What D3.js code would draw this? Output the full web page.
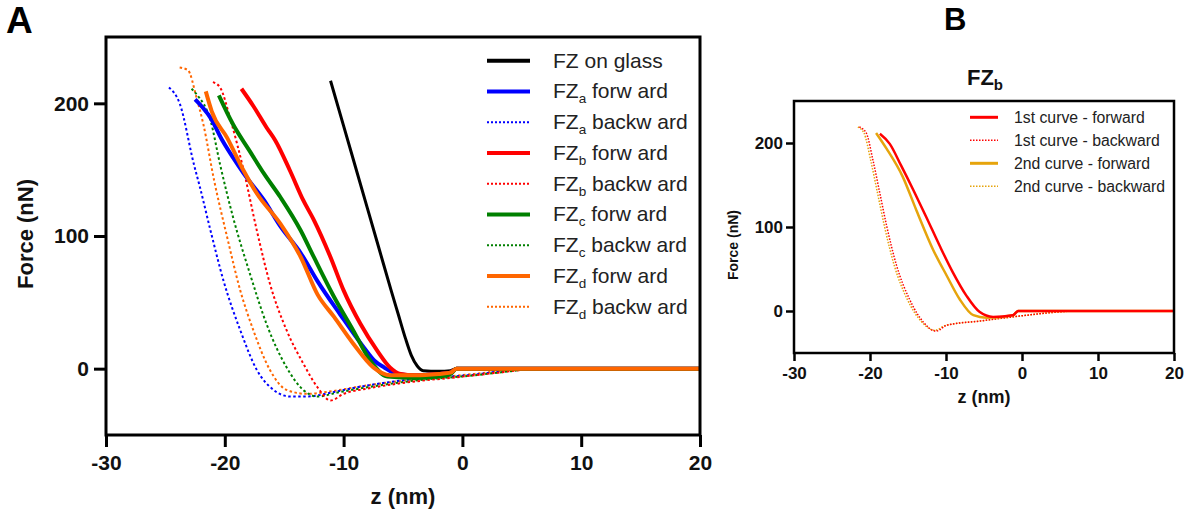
<!DOCTYPE html>
<html><head><meta charset="utf-8">
<script src="https://cdn.jsdelivr.net/npm/d3@7"></script>
<style>body{margin:0;background:#fff}svg{display:block}text{font-family:"Liberation Sans",Arial,sans-serif}</style>
</head><body>
<svg id="c" width="1192" height="524"></svg>
<script>
// ---------- Data (z in nm, Force in nN) ----------
const xTicks = [-30, -20, -10, 0, 10, 20];
const yTicks = [0, 100, 200];

const glassFwd = [[-11.1,217],[-10,183],[-9,152],[-8,121],[-7,90],[-6,59],[-5.4,41],[-4.8,23],[-4.3,10],[-3.8,2],[-3.3,-1.5],[-2,-2],[-1,-1.5],[-0.5,0],[0,0],[20,0]];
const aFwd = [[-22.5,203],[-21.2,189],[-20.2,172],[-19.3,159],[-18.4,147],[-16.7,127],[-15.3,107],[-13.6,87],[-12.2,66],[-10.3,41],[-8.3,16],[-7.4,6],[-6.6,1],[-5.5,-4],[-4,-5],[-2,-4],[-1,-3],[-0.5,0],[20,0]];
const aBwd = [[-24.7,212],[-23.8,200],[-22.6,154],[-22.1,137],[-21.2,104],[-20.1,66],[-18.7,29],[-17.3,-1],[-15.9,-16],[-14.5,-21],[-13.1,-21],[-11,-18],[-9.4,-15],[-5.2,-9],[1.5,-4],[4,-1],[6,0],[20,0]];
const bFwd = [[-18.6,211],[-17.6,198],[-16.5,182],[-15.75,172],[-14.5,149],[-13.4,127],[-12.5,112],[-11.1,84],[-10,59],[-8.6,34],[-7.2,14],[-6.1,1],[-5.2,-4],[-4,-5],[-2,-4],[-1,-3],[-0.5,0],[20,0]];
const bBwd = [[-21,216],[-20.4,212],[-19.5,187],[-18.4,149],[-17.3,104],[-16.2,64],[-14.8,29],[-13.4,4],[-12.2,-14],[-11.1,-24],[-10,-19],[-8,-15],[-5.2,-11],[0,-6],[3,-3],[5,-1],[6.5,0],[20,0]];
const cFwd = [[-20.5,206],[-19.3,184],[-17.9,164],[-16.7,147],[-15.3,129],[-13.6,104],[-12.5,84],[-10.8,54],[-9.2,29],[-7.75,6],[-6.3,-6],[-4,-7],[-2,-6],[-1,-4],[-0.5,0],[20,0]];
const cBwd = [[-22.8,211],[-22.3,206],[-21.2,187],[-20.4,154],[-19.3,114],[-17.9,72],[-16.5,34],[-14.8,1],[-13.4,-16],[-12.2,-21],[-10.5,-18],[-8,-14],[-4,-9],[1,-5],[4,-2],[6,0],[20,0]];
const dFwd = [[-21.6,209],[-21.1,194],[-19.8,174],[-18.4,149],[-17.3,132],[-15.3,109],[-13.6,84],[-12.2,56],[-10.8,39],[-9.2,19],[-7.5,1],[-6.1,-5],[-4,-5],[-2,-4],[-1,-3],[-0.5,0],[20,0]];
const dBwd = [[-23.8,227],[-23.1,225],[-22.4,205],[-21.8,184],[-20.9,142],[-19.8,99],[-18.7,59],[-17.6,29],[-16.2,-1],[-14.8,-16],[-13.1,-19],[-11,-17],[-9,-14],[-5,-9],[1,-4],[4,-1],[6,0],[20,0]];

const b1Fwd = [[-18.7,211],[-17.4,199],[-15.9,173],[-14.3,144],[-12.6,112],[-10.8,77],[-9.1,46],[-7.3,18],[-5.6,-1],[-3.8,-7],[-1.2,-5],[-0.5,0],[20,0]];
const b1Bwd = [[-21.4,219],[-20.5,212],[-19.6,179],[-18.7,140],[-17.8,101],[-16.5,54],[-14.8,14],[-13,-13],[-11.3,-24],[-9.9,-17],[-5.6,-12],[-0.3,-6],[5,-1],[7,0],[20,0]];
const b2Fwd = [[-19.2,212],[-17.8,193],[-15.7,160],[-13.9,120],[-11.7,73],[-9.9,42],[-8.2,14],[-6.4,-5],[-4.7,-8],[-1.2,-5],[-0.5,0],[20,0]];
const b2Bwd = [[-21.6,219],[-20.8,212],[-19.9,179],[-19,140],[-18.1,101],[-16.8,54],[-15.1,14],[-13.2,-13],[-11.5,-23],[-10,-17],[-5.6,-12],[-0.3,-6],[5,-1],[7,0],[20,0]];

const legendA = [
  {main:"FZ on glass", sub:"", rest:"", color:"#000000", dash:false},
  {main:"FZ", sub:"a", rest:" forw ard", color:"#0000ff", dash:false},
  {main:"FZ", sub:"a", rest:" backw ard", color:"#0000ff", dash:true},
  {main:"FZ", sub:"b", rest:" forw ard", color:"#ff0000", dash:false},
  {main:"FZ", sub:"b", rest:" backw ard", color:"#ff0000", dash:true},
  {main:"FZ", sub:"c", rest:" forw ard", color:"#008000", dash:false},
  {main:"FZ", sub:"c", rest:" backw ard", color:"#008000", dash:true},
  {main:"FZ", sub:"d", rest:" forw ard", color:"#ff6600", dash:false},
  {main:"FZ", sub:"d", rest:" backw ard", color:"#ff6600", dash:true}
];
const seriesA = [dBwd, aBwd, cBwd, bBwd, glassFwd, aFwd, bFwd, cFwd, dFwd];
const seriesAStyle = [legendA[8], legendA[2], legendA[6], legendA[4], legendA[0], legendA[1], legendA[3], legendA[5], legendA[7]];

const legendB = [
  {label:"1st curve - forward", color:"#ff0000", dash:false},
  {label:"1st curve - backward", color:"#ff0000", dash:true},
  {label:"2nd curve - forward", color:"#e6a40c", dash:false},
  {label:"2nd curve - backward", color:"#e6a40c", dash:true}
];
const seriesB = [b2Bwd, b1Bwd, b2Fwd, b1Fwd];
const seriesBStyle = [legendB[3], legendB[1], legendB[2], legendB[0]];

// ---------- Drawing ----------
const svg = d3.select("#c");

function panel(cfg) {
  const x = d3.scaleLinear().domain([-30, 20]).range([cfg.left, cfg.right]);
  const y = d3.scaleLinear().domain([-50, 250]).range([cfg.bottom, cfg.top]);
  const g = svg.append("g");
  const line = d3.line().x(d => x(d[0])).y(d => y(d[1])).curve(d3.curveMonotoneX);

  cfg.series.forEach((s, i) => {
    const st = cfg.styles[i];
    const isGlass = st.color === "#000000";
    g.append("path").datum(s).attr("d", line)
      .attr("fill", "none").attr("stroke", st.color)
      .attr("stroke-width", st.dash ? cfg.dashW : (isGlass ? cfg.glassW : cfg.solidW))
      .attr("stroke-dasharray", st.dash ? cfg.dashArr : null)
      .attr("stroke-linejoin", "round");
  });

  // frame
  g.append("rect").attr("x", cfg.left).attr("y", cfg.top)
    .attr("width", cfg.right - cfg.left).attr("height", cfg.bottom - cfg.top)
    .attr("fill", "none").attr("stroke", "#000").attr("stroke-width", cfg.axisW);

  const fmt = d => String(d);
  const xa = g.append("g").attr("transform", `translate(0,${cfg.bottom})`)
    .call(d3.axisBottom(x).tickValues(xTicks).tickSize(cfg.tick).tickPadding(cfg.xPad).tickFormat(fmt));
  const ya = g.append("g").attr("transform", `translate(${cfg.left},0)`)
    .call(d3.axisLeft(y).tickValues(yTicks).tickSize(cfg.tick).tickPadding(cfg.yPad).tickFormat(fmt));
  [xa, ya].forEach(a => {
    a.select(".domain").remove();
    a.selectAll("line").attr("stroke", "#000").attr("stroke-width", cfg.axisW);
    a.selectAll("text").attr("font-size", cfg.tickFont).attr("font-weight", "bold")
      .attr("fill", "#111").attr("font-family", '"Liberation Sans",Arial,sans-serif');
  });

  g.append("text").attr("x", (cfg.left + cfg.right) / 2).attr("y", cfg.xTitleY)
    .attr("text-anchor", "middle").attr("font-size", cfg.titleFont.x).attr("font-weight", "bold")
    .attr("fill", "#111").text("z (nm)");
  g.append("text").attr("transform", `translate(${cfg.yTitleX},${cfg.yTitleCy}) rotate(-90)`)
    .attr("text-anchor", "middle").attr("font-size", cfg.titleFont.y).attr("font-weight", "bold")
    .attr("fill", "#111").text("Force (nN)");
  return g;
}

panel({left:106, right:700, top:37, bottom:435, series:seriesA, styles:seriesAStyle,
  solidW:4, glassW:3, dashW:2, dashArr:"2.5,2.5", axisW:3, tick:12, xPad:8, yPad:5,
  tickFont:21, titleFont:{x:22, y:22}, xTitleY:504, yTitleX:33, yTitleCy:234});

// Legend A
const lgA = svg.append("g");
legendA.forEach((d, i) => {
  const yy = 60.7 + i * 30.75;
  lgA.append("line").attr("x1", 487).attr("x2", 530).attr("y1", yy).attr("y2", yy)
    .attr("stroke", d.color).attr("stroke-width", d.dash ? 2 : 4)
    .attr("stroke-dasharray", d.dash ? "2,2" : null);
  const t = lgA.append("text").attr("x", 553).attr("y", yy + 7).attr("font-size", 21).attr("fill", "#222");
  t.append("tspan").text(d.main);
  if (d.sub) {
    t.append("tspan").attr("font-size", 13.5).attr("dy", 5).text(d.sub);
    t.append("tspan").attr("dy", -5).text(d.rest);
  }
});

panel({left:794, right:1174, top:101, bottom:353, series:seriesB, styles:seriesBStyle,
  solidW:2.5, glassW:2.5, dashW:1.5, dashArr:"1.5,1.5", axisW:2.5, tick:8, xPad:6, yPad:3,
  tickFont:17, titleFont:{x:18, y:14}, xTitleY:403, yTitleX:738, yTitleCy:245});

// Legend B
const lgB = svg.append("g");
legendB.forEach((d, i) => {
  const yy = 117.3 + i * 23;
  lgB.append("line").attr("x1", 970).attr("x2", 998).attr("y1", yy).attr("y2", yy)
    .attr("stroke", d.color).attr("stroke-width", d.dash ? 1.5 : 3)
    .attr("stroke-dasharray", d.dash ? "1.5,1.5" : null);
  lgB.append("text").attr("x", 1014).attr("y", yy + 5.5).attr("font-size", 15.8).attr("fill", "#222").text(d.label);
});

// Panel letters and title
svg.append("text").attr("x", 6).attr("y", 33).attr("font-size", 37).attr("font-weight", "bold").text("A");
svg.append("text").attr("x", 944).attr("y", 30).attr("font-size", 31).attr("font-weight", "bold").text("B");
const ttl = svg.append("text").attr("x", 985).attr("y", 85).attr("text-anchor", "middle")
  .attr("font-size", 22).attr("font-weight", "bold").attr("fill", "#111");
ttl.append("tspan").text("FZ");
ttl.append("tspan").attr("font-size", 15).attr("dy", 5).text("b");
</script>
</body></html>
